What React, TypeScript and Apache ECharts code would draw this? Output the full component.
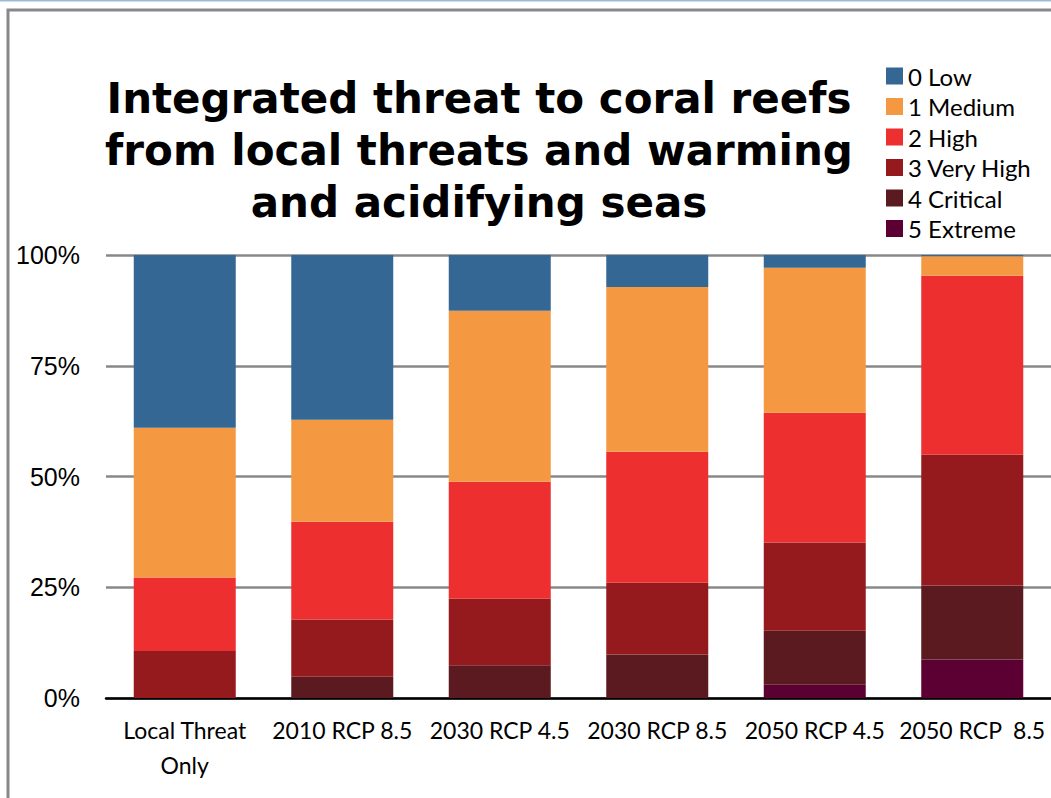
import React, { useEffect, useRef } from "react";
import * as echarts from "echarts";

const categories = ["Local Threat\nOnly", "2010 RCP 8.5", "2030 RCP 4.5", "2030 RCP 8.5", "2050 RCP 4.5", "2050 RCP  8.5"];
const seriesNames = ["0 Low", "1 Medium", "2 High", "3 Very High", "4 Critical", "5 Extreme"];
const lowValues = [39.0, 37.2, 12.6, 7.2, 2.9, 0.3];
const mediumValues = [33.8, 23.0, 38.6, 37.2, 32.7, 4.4];
const highValues = [16.6, 22.1, 26.4, 29.6, 29.3, 40.4];
const veryHighValues = [10.6, 12.9, 15.0, 16.2, 19.9, 29.5];
const criticalValues = [0, 4.8, 7.4, 9.8, 12.2, 16.7];
const extremeValues = [0, 0, 0, 0, 3.0, 8.7];
const yTicks = [0, 25, 50, 75, 100];

const colors: Record<string, string> = {
  "0 Low": "#356795",
  "1 Medium": "#f59842",
  "2 High": "#ee2f2f",
  "3 Very High": "#951a1e",
  "4 Critical": "#5a1a20",
  "5 Extreme": "#5c0033",
};

export default function App() {
  const ref = useRef<HTMLDivElement>(null);
  useEffect(() => {
    if (!ref.current) return;
    const chart = echarts.init(ref.current, null, { renderer: "svg" });
    const stackOrder: [string, number[]][] = [
      ["5 Extreme", extremeValues],
      ["4 Critical", criticalValues],
      ["3 Very High", veryHighValues],
      ["2 High", highValues],
      ["1 Medium", mediumValues],
      ["0 Low", lowValues],
    ];
    chart.setOption({
      animation: false,
      backgroundColor: "#ffffff",
      title: {
        text: "Integrated threat to coral reefs\nfrom local threats and warming\nand acidifying seas",
        left: 479,
        top: 72,
        padding: 0,
        textAlign: "center",
        textStyle: {
          fontFamily: "DejaVu Sans",
          fontWeight: "bold",
          fontSize: 42,
          lineHeight: 52,
          color: "#000000",
        },
      },
      legend: {
        data: seriesNames,
        orient: "vertical",
        left: 886,
        top: 64,
        padding: 0,
        itemWidth: 17,
        itemHeight: 17,
        itemGap: 6.5,
        icon: "rect",
        textStyle: {
          fontFamily: "Lato",
          fontSize: 24,
          color: "#000000",
        },
      },
      grid: { left: 106, right: 0, top: 255, bottom: 100, containLabel: false },
      xAxis: {
        type: "category",
        data: categories,
        axisLine: { lineStyle: { color: "#000000", width: 2.5 } },
        axisTick: { show: false },
        axisLabel: {
          fontFamily: "Lato",
          fontSize: 23,
          lineHeight: 35,
          color: "#000000",
          margin: 14,
          interval: 0,
        },
      },
      yAxis: {
        type: "value",
        min: yTicks[0],
        max: yTicks[yTicks.length - 1],
        interval: 25,
        axisLine: { show: false },
        axisTick: { show: false },
        splitLine: { lineStyle: { color: "#888888", width: 2.5 } },
        axisLabel: {
          formatter: "{value}%",
          fontFamily: "Liberation Sans",
          fontSize: 25,
          color: "#000000",
          margin: 26,
        },
      },
      series: stackOrder.map(([name, vals]) => ({
        name,
        type: "bar",
        stack: "total",
        data: vals,
        barWidth: 102,
        itemStyle: { color: colors[name] },
      })),
      color: seriesNames.map((n) => colors[n]),
      graphic: [
        {
          type: "line",
          shape: { x1: 0, y1: 0.5, x2: 1051, y2: 0.5 },
          style: { stroke: "#9fb9d8", lineWidth: 2 },
          silent: true,
        },
        {
          type: "polyline",
          shape: { points: [[8, 798], [8, 10], [1051, 10]] },
          style: { stroke: "#888888", lineWidth: 3, fill: null },
          silent: true,
        },
      ],
    });
    return () => chart.dispose();
  }, []);
  return (
    <div
      ref={ref}
      style={{ position: "absolute", left: 0, top: 0, width: 1051, height: 798 }}
    />
  );
}
